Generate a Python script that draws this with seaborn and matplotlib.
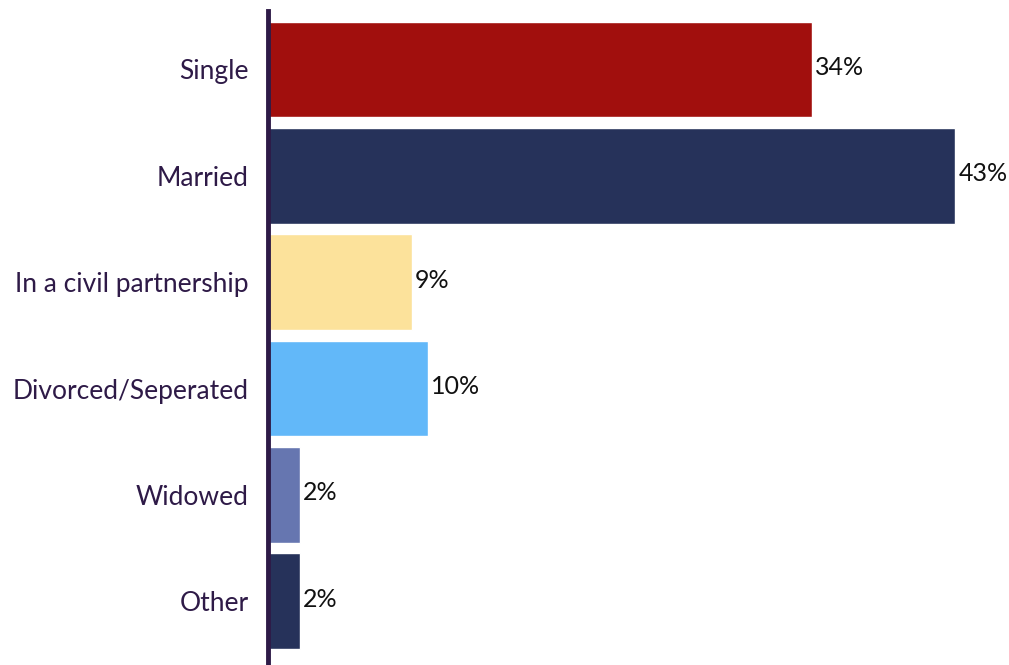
import matplotlib
matplotlib.use("Agg")
import matplotlib.pyplot as plt
import seaborn as sns
import pandas as pd

# data
categories = ["Single", "Married", "In a civil partnership",
              "Divorced/Seperated", "Widowed", "Other"]
values = [34, 43, 9, 10, 2, 2]
colors = ["#A10F0D", "#26325A", "#FCE29B", "#62B8F9", "#6676B0", "#26325A"]

df = pd.DataFrame({"status": categories, "pct": values})

sns.set_style("white")
plt.rcParams["font.family"] = ["Lato", "DejaVu Sans"]

fig = plt.figure(figsize=(10.09, 6.65), dpi=100)
ax = fig.add_axes([268 / 1009, 0, 1 - 268 / 1009, 1 - 11 / 665])

sns.barplot(data=df, x="pct", y="status", hue="status", palette=colors,
            legend=False, width=0.9, ax=ax, saturation=1)

for i, v in enumerate(values):
    ax.text(v + 0.2, i - 0.02, f"{v}%", va="center", ha="left",
            fontsize=18, color="#111111")

ax.set_xlim(0, 46.35)
ax.set_ylim(5.6, -0.55)
ax.set_xlabel("")
ax.set_ylabel("")
ax.set_xticks([])
ax.tick_params(axis="y", length=0, pad=14, labelsize=19, labelcolor="#2E1A47")

for side in ["top", "right", "bottom"]:
    ax.spines[side].set_visible(False)
ax.spines["left"].set_color("#2E1A47")
ax.spines["left"].set_linewidth(3.5)

fig.savefig("out.png", dpi=100)
